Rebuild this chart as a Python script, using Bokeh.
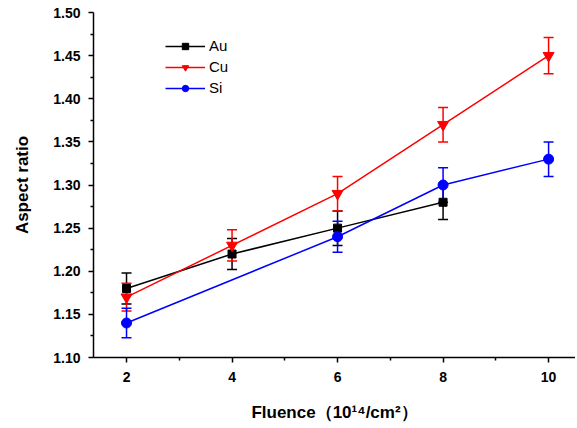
from bokeh.plotting import figure
from bokeh.models import ColumnDataSource, Whisker, FixedTicker, PrintfTickFormatter, Range1d, Legend, LegendItem, TeeHead
from bokeh.embed import file_html
from bokeh.resources import INLINE

au_x = [2, 4, 6, 8]
au_y = [1.18, 1.22, 1.25, 1.28]
au_err = [0.018, 0.018, 0.02, 0.02]

cu_x = [2, 4, 6, 8, 10]
cu_y = [1.17, 1.23, 1.29, 1.37, 1.45]
cu_err = [0.016, 0.018, 0.02, 0.02, 0.021]

si_x = [2, 6, 8, 10]
si_y = [1.14, 1.24, 1.30, 1.33]
si_err = [0.017, 0.018, 0.02, 0.02]

x_ticks = [2, 4, 6, 8, 10]
x_minor = [3, 5, 7, 9]
y_ticks = [1.10, 1.15, 1.20, 1.25, 1.30, 1.35, 1.40, 1.45, 1.50]
y_minor = [1.125, 1.175, 1.225, 1.275, 1.325, 1.375, 1.425, 1.475]

FONT = "Liberation Sans"

p = figure(width=575, height=426, output_backend="svg", toolbar_location=None,
           x_range=Range1d(1.374, 10.51), y_range=Range1d(1.10, 1.50),
           min_border_left=93, min_border_right=0, min_border_top=12, min_border_bottom=69)
p.outline_line_color = None
p.xgrid.visible = False
p.ygrid.visible = False

series = [
    ("Au", au_x, au_y, au_err, "black", "square", 8),
    ("Cu", cu_x, cu_y, cu_err, "#ff0000", "inverted_triangle", 11),
    ("Si", si_x, si_y, si_err, "#0000ff", "circle", 10),
]

items = []
for name, xs, ys, es, col, mk, sz in series:
    src = ColumnDataSource(dict(x=xs, y=ys,
                                lo=[a - b for a, b in zip(ys, es)],
                                hi=[a + b for a, b in zip(ys, es)]))
    ln = p.line("x", "y", source=src, line_color=col, line_width=1.5)
    w = Whisker(source=src, base="x", lower="lo", upper="hi", line_color=col, line_width=1.5,
                upper_head=TeeHead(size=10, line_color=col, line_width=1.5),
                lower_head=TeeHead(size=10, line_color=col, line_width=1.5))
    p.add_layout(w)
    sc = p.scatter("x", "y", source=src, marker=mk, size=sz, fill_color=col, line_color=col)
    items.append(LegendItem(label=name, renderers=[ln, sc]))

legend = Legend(items=items, location=(72, 261), glyph_width=40, glyph_height=16,
                label_text_font=FONT, label_text_font_size="15px", label_standoff=4,
                label_text_color="black",
                spacing=4, padding=2, margin=0,
                background_fill_alpha=0, border_line_color=None)
p.add_layout(legend, "center")

for ax in (p.xaxis[0], p.yaxis[0]):
    ax.axis_line_width = 1.5
    ax.axis_line_color = "black"
    ax.major_tick_in = 0
    ax.major_tick_out = 5
    ax.minor_tick_in = 0
    ax.minor_tick_out = 3
    ax.major_tick_line_width = 1.5
    ax.minor_tick_line_width = 1.5
    ax.major_tick_line_color = "black"
    ax.minor_tick_line_color = "black"
    ax.major_label_text_font = FONT
    ax.major_label_text_font_style = "bold"
    ax.major_label_text_font_size = "14px"
    ax.major_label_text_color = "black"
    ax.axis_label_text_font = FONT
    ax.axis_label_text_font_style = "bold"
    ax.axis_label_text_font_size = "17px"
    ax.axis_label_text_color = "black"

p.xaxis.ticker = FixedTicker(ticks=x_ticks, minor_ticks=x_minor)
p.yaxis.ticker = FixedTicker(ticks=y_ticks, minor_ticks=y_minor)
p.yaxis.formatter = PrintfTickFormatter(format="%.2f")
p.xaxis.major_label_standoff = 9
p.yaxis.major_label_standoff = 8
p.xaxis.axis_label = "Fluence（10¹⁴/cm²）"
p.yaxis.axis_label = "Aspect ratio"
p.xaxis.axis_label_standoff = 18
p.yaxis.axis_label_standoff = 18

open("out.html", "w").write(file_html(p, INLINE))
